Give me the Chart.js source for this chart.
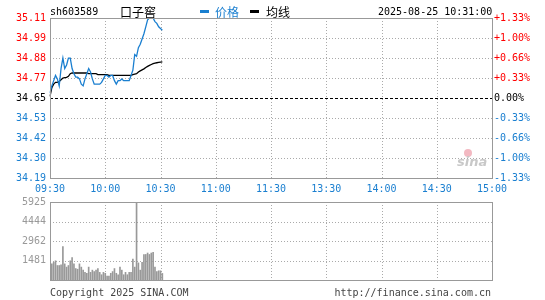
<!DOCTYPE html>
<html><head><meta charset="utf-8">
<script src="https://cdn.jsdelivr.net/npm/chart.js@4.4.1/dist/chart.umd.min.js"></script>
<style>
html,body{margin:0;padding:0;background:#fff;}
#wrap{position:relative;width:545px;height:300px;overflow:hidden;font-family:"DejaVu Sans Mono",monospace;}
canvas{position:absolute;left:0;}
.t{position:absolute;font-size:10px;line-height:12px;white-space:nowrap;font-family:"DejaVu Sans Mono",monospace;}
.cjk{position:absolute;font-family:"Noto Sans CJK SC",sans-serif;font-size:12px;line-height:14px;white-space:nowrap;}
</style></head><body>
<div id="wrap">
<canvas id="pc" width="545" height="200" style="top:0"></canvas>
<canvas id="vc" width="545" height="100" style="top:190px"></canvas>
<div class="t" style="left:50px;top:6px;color:#000">sh603589</div>
<div class="cjk" style="left:120px;top:5px;color:#000">口子窖</div>
<div style="position:absolute;left:200px;top:10px;width:9px;height:3px;background:#1a7fd0"></div>
<div class="cjk" style="left:215px;top:5px;color:#1a7fd0">价格</div>
<div style="position:absolute;left:250px;top:10px;width:9px;height:3px;background:#000"></div>
<div class="cjk" style="left:266px;top:5px;color:#000">均线</div>
<div class="t" style="left:378px;top:6px;color:#000">2025-08-25 10:31:00</div>
<div style="position:absolute;left:464px;top:149px;width:8px;height:8px;border-radius:50%;background:#f3b9c2"></div>
<div style="position:absolute;left:457px;top:155px;font-family:'DejaVu Sans',sans-serif;font-style:italic;font-weight:bold;font-size:13px;line-height:14px;color:#c8c8c8">sina</div>
<div class="t" style="left:50px;top:287px;color:#444">Copyright 2025 SINA.COM</div>
<div class="t" style="right:54px;top:287px;color:#444">http://finance.sina.com.cn</div>
</div>
<script>
// ---- data ----
const prevClose = 34.65;
const rangePct = 1.33;
const volMax = 5925;
const priceTicks = ['34.19','34.30','34.42','34.53','34.65','34.77','34.88','34.99','35.11'];
const pctTicks = ['-1.33%','-1.00%','-0.66%','-0.33%','0.00%','+0.33%','+0.66%','+1.00%','+1.33%'];
const volTicks = ['','1481','2962','4444','5925'];
const timeTicks = ['09:30','10:00','10:30','11:00','11:30','13:30','14:00','14:30','15:00'];
const prices = [
 34.68,34.72,34.75,34.78,34.76,34.72,34.82,34.88,34.82,34.84,
 34.88,34.88,34.82,34.79,34.77,34.77,34.76,34.73,34.72,34.76,
 34.79,34.82,34.80,34.76,34.73,34.73,34.73,34.73,34.74,34.76,
 34.78,34.78,34.77,34.78,34.78,34.75,34.73,34.75,34.75,34.76,
 34.75,34.75,34.75,34.75,34.78,34.81,34.90,34.89,34.94,34.96,
 34.99,35.02,35.06,35.10,35.11,35.11,35.11,35.09,35.08,35.06,
 35.05,35.04];
const avgPrices = [
 34.66,34.71,34.73,34.74,34.74,34.745,34.755,34.765,34.767,34.769,
 34.775,34.79,34.794,34.794,34.794,34.794,34.794,34.794,34.794,34.794,
 34.794,34.79,34.79,34.79,34.79,34.79,34.785,34.785,34.785,34.785,
 34.785,34.785,34.78,34.78,34.78,34.78,34.78,34.78,34.78,34.78,
 34.78,34.78,34.78,34.78,34.78,34.784,34.787,34.79,34.80,34.806,
 34.812,34.818,34.826,34.832,34.838,34.843,34.848,34.851,34.853,34.855,
 34.857,34.858];
const volumes = [
 2150,1225,1340,1460,1100,1100,1150,2530,1225,980,
 1100,1460,1700,1225,870,820,1225,980,750,580,
 510,980,580,750,640,750,870,580,400,580,
 510,300,300,510,640,870,510,400,980,750,
 400,580,400,580,580,1580,980,5925,1300,750,
 1340,1940,1940,2050,1940,2050,2100,980,640,700,
 700,500];

// ---- category labels (trading minutes) ----
const minutes = [];
function pushRange(h0,m0,h1,m1){
  for(let t=h0*60+m0;t<=h1*60+m1;t++){
    minutes.push(String(Math.floor(t/60)).padStart(2,'0')+':'+String(t%60).padStart(2,'0'));
  }
}
pushRange(9,30,11,30); pushRange(13,1,15,0);

const BLUE = '#1a7fd0';
const pMin = prevClose*(1-rangePct/100), pMax = prevClose*(1+rangePct/100);

function gridPlugin(zeroIndex){
  return {
    id:'gridframe',
    beforeDatasetsDraw(chart){
      const {ctx, chartArea:a} = chart;
      const y = chart.scales.y, x = chart.scales.x;
      ctx.save();
      ctx.lineWidth = 1;
      ctx.strokeStyle = '#aaa';
      ctx.setLineDash([1,2]);
      const line=(x1,y1,x2,y2)=>{ctx.beginPath();ctx.moveTo(x1,y1);ctx.lineTo(x2,y2);ctx.stroke();};
      y.ticks.forEach((t,i)=>{
        if(i===0||i===y.ticks.length-1||i===zeroIndex) return;
        const py=Math.round(y.getPixelForValue(t.value))+0.5;
        line(a.left,py,a.right,py);
      });
      timeTicks.forEach((lab,i)=>{
        if(i===0||i===timeTicks.length-1) return;
        const px=Math.round(x.getPixelForValue(minutes.indexOf(lab)))+0.5;
        line(px,a.top,px,a.bottom);
      });
      if(zeroIndex!=null){
        ctx.strokeStyle='#000';
        ctx.setLineDash([3,2]);
        const py=Math.round(y.getPixelForValue(y.ticks[zeroIndex].value))+0.5;
        line(a.left,py,a.right,py);
      }
      ctx.restore();
    },
    afterDatasetsDraw(chart){
      const {ctx, chartArea:a} = chart;
      ctx.save();
      ctx.strokeStyle='#999'; ctx.lineWidth=1; ctx.setLineDash([]);
      ctx.strokeRect(Math.round(a.left)+0.5, Math.round(a.top)+0.5, Math.round(a.right)-Math.round(a.left), Math.round(a.bottom)-Math.round(a.top));
      ctx.restore();
    }
  };
}

const monoFont = {family:'"DejaVu Sans Mono", monospace', size:10};
const noGrid = {display:false, drawTicks:false};

function evenTicks(n){
  return function(scale){
    const lo=scale.min, hi=scale.max;
    scale.ticks = Array.from({length:n},(_,i)=>({value: lo+(hi-lo)*i/(n-1)}));
  };
}

new Chart(document.getElementById('pc'),{
  type:'line',
  data:{labels:minutes, datasets:[
    {data:prices, borderColor:BLUE, borderWidth:1.3, pointRadius:0, tension:0, spanGaps:false},
    {data:avgPrices, borderColor:'#000', borderWidth:1.3, pointRadius:0, tension:0}
  ]},
  options:{
    responsive:false, devicePixelRatio:1, animation:false,
    layout:{padding:{top:18,bottom:0,left:0,right:0}},
    plugins:{legend:{display:false}, tooltip:{enabled:false}},
    scales:{
      x:{type:'category', offset:false, grid:noGrid, border:{display:false},
         afterFit(s){s.height=22;},
         ticks:{autoSkip:false, maxRotation:0, minRotation:0, padding:5, font:monoFont, color:BLUE,
           callback(v){const lab=this.getLabelForValue(v); return timeTicks.includes(lab)?lab:null;}}},
      y:{position:'left', min:pMin, max:pMax, grid:noGrid, border:{display:false},
         afterBuildTicks:evenTicks(9), afterFit(s){s.width=50;},
         ticks:{padding:4, font:monoFont, callback:(v,i)=>priceTicks[i],
           color:c=>c.index>4?'#f00':(c.index===4?'#000':BLUE)}},
      y2:{position:'right', min:pMin, max:pMax, grid:noGrid, border:{display:false},
         afterBuildTicks:evenTicks(9), afterFit(s){s.width=53;},
         ticks:{padding:2, font:monoFont, callback:(v,i)=>pctTicks[i],
           color:c=>c.index>4?'#f00':(c.index===4?'#000':BLUE)}}
    }
  },
  plugins:[gridPlugin(4)]
});

new Chart(document.getElementById('vc'),{
  type:'bar',
  data:{labels:minutes, datasets:[
    {data:volumes, backgroundColor:'#999', barThickness:1, borderWidth:0}
  ]},
  options:{
    responsive:false, devicePixelRatio:1, animation:false,
    layout:{padding:{top:12,bottom:5,left:0,right:53}},
    plugins:{legend:{display:false}, tooltip:{enabled:false}},
    scales:{
      x:{type:'category', offset:false, display:false, grid:noGrid},
      y:{position:'left', min:0, max:volMax, grid:noGrid, border:{display:false},
         afterBuildTicks:evenTicks(5), afterFit(s){s.width=50;},
         ticks:{padding:4, font:monoFont, color:'#999', callback:(v,i)=>volTicks[i]}}
    }
  },
  plugins:[gridPlugin(null)]
});
</script>
</body></html>
